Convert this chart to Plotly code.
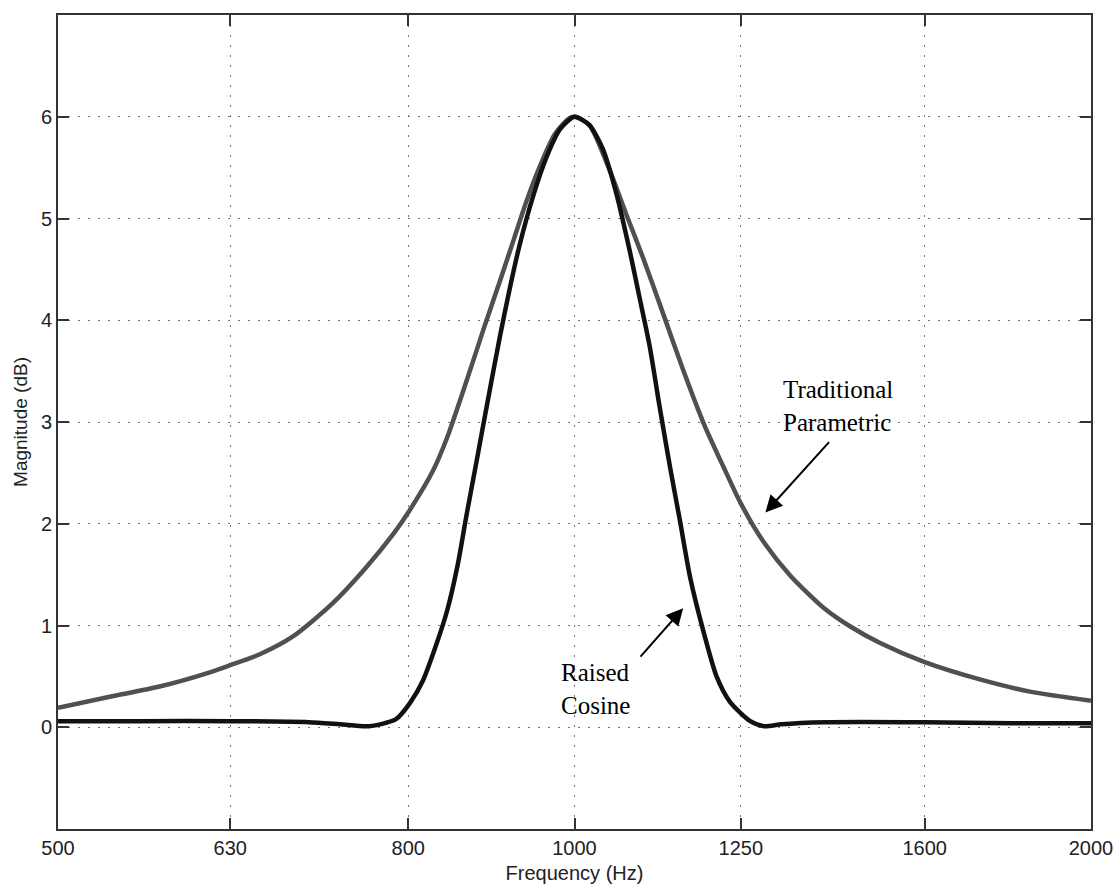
import math
import plotly.graph_objects as go

# Traditional parametric EQ response (Hz, dB)
trad_freq = [500, 536, 573, 613, 630, 656, 685, 723, 756, 785, 800, 827, 843, 865, 885,
             905, 922, 938, 956, 974, 992, 1000, 1020, 1048, 1072, 1096, 1126, 1157, 1189,
             1222, 1250, 1289, 1336, 1398, 1448, 1506, 1600, 1723, 1843, 2000]
trad_db = [0.19, 0.30, 0.40, 0.54, 0.61, 0.72, 0.89, 1.22, 1.57, 1.91, 2.11, 2.52, 2.85, 3.40, 3.91,
           4.39, 4.80, 5.18, 5.54, 5.83, 5.98, 6.00, 5.92, 5.48, 5.04, 4.62, 4.07, 3.51, 2.99,
           2.55, 2.20, 1.82, 1.49, 1.17, 0.99, 0.83, 0.64, 0.47, 0.35, 0.26]

# Raised cosine response (Hz, dB)
rc_freq = [500, 560, 630, 700, 730, 759, 787, 802, 816, 831, 843, 855, 865, 877, 889, 905, 917,
           929, 946, 963, 981, 1000, 1020, 1039, 1058, 1077, 1091, 1106, 1121, 1137, 1152, 1168,
           1189, 1210, 1232, 1266, 1290, 1320, 1400, 1600, 1800, 2000]
rc_db = [0.06, 0.06, 0.06, 0.05, 0.03, 0.01, 0.08, 0.24, 0.46, 0.82, 1.15, 1.60, 2.08, 2.62, 3.16,
         3.85, 4.32, 4.74, 5.22, 5.60, 5.88, 6.00, 5.92, 5.68, 5.24, 4.68, 4.23, 3.75, 3.15, 2.55,
         2.03, 1.47, 0.94, 0.50, 0.25, 0.06, 0.01, 0.03, 0.05, 0.05, 0.04, 0.04]

x_ticks = [500, 630, 800, 1000, 1250, 1600, 2000]
y_ticks = [0, 1, 2, 3, 4, 5, 6]

fig = go.Figure()
fig.add_trace(go.Scatter(x=trad_freq, y=trad_db, mode="lines",
                         line=dict(color="#505050", width=4.5, shape="spline", smoothing=0.7),
                         showlegend=False))
fig.add_trace(go.Scatter(x=rc_freq, y=rc_db, mode="lines",
                         line=dict(color="#111111", width=4.5, shape="spline", smoothing=0.7),
                         showlegend=False))

serif = "Liberation Serif, Times New Roman, serif"
# arrows
fig.add_annotation(x=math.log10(1157), y=1.17, xref="x", yref="y", text="",
                   showarrow=True, ax=-44, ay=50, arrowhead=2, arrowsize=1.7,
                   arrowwidth=2, arrowcolor="#000")
fig.add_annotation(x=math.log10(1292), y=2.11, xref="x", yref="y", text="",
                   showarrow=True, ax=65, ay=-72, arrowhead=2, arrowsize=1.7,
                   arrowwidth=2, arrowcolor="#000")
# labels
fig.add_annotation(x=math.log10(1028), y=0.38, xref="x", yref="y",
                   text="Raised<br>Cosine", showarrow=False, align="left",
                   font=dict(family=serif, size=25, color="#000"))
fig.add_annotation(x=math.log10(1425), y=3.16, xref="x", yref="y",
                   text="Traditional<br>Parametric", showarrow=False, align="left",
                   font=dict(family=serif, size=25, color="#000"))

sans = "Liberation Sans, Arial, sans-serif"
grid_style = dict(showgrid=True, gridcolor="#777777", griddash="2px,8px", gridwidth=1.2,
                  showline=True, linecolor="#333", linewidth=1.6, mirror="allticks",
                  ticks="inside", ticklen=11, tickcolor="#333", tickwidth=1.6,
                  zeroline=False, automargin=False)
fig.update_layout(
    width=1120, height=890,
    margin=dict(l=58, r=29, t=15, b=61),
    paper_bgcolor="white", plot_bgcolor="white",
    font=dict(family=sans, size=20, color="#222"),
    xaxis=dict(type="log", range=[math.log10(500), math.log10(2000)],
               tickvals=x_ticks, ticktext=[str(v) for v in x_ticks],
               title=dict(text="Frequency (Hz)", standoff=8, font=dict(size=20)),
               **grid_style),
    yaxis=dict(range=[-1, 7], tickvals=y_ticks,
               title=dict(text="Magnitude (dB)", standoff=8, font=dict(size=19)),
               **grid_style),
)

fig.write_html("out.html")
